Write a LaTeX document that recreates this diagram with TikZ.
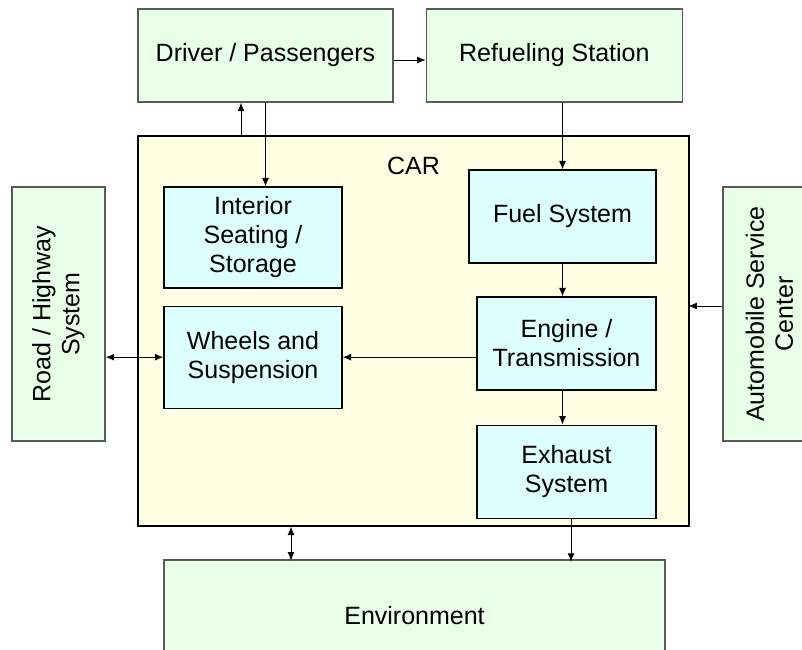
\documentclass[tikz,border=0pt]{standalone}
\usepackage{fontspec}
\setmainfont{Liberation Sans}
\usetikzlibrary{arrows.meta,positioning}
\definecolor{outgreen}{RGB}{232,255,232}
\definecolor{partblue}{RGB}{221,255,255}
\definecolor{carcream}{RGB}{255,255,228}

\begin{document}
\begin{tikzpicture}[x=1pt,y=-1pt,
		>={Latex[length=8.5pt,width=7pt]},
		outerbox/.style={draw=black!65,line width=1.3pt,fill=outgreen,align=center,
			font=\fontsize{25}{29}\selectfont,inner sep=2pt},
		partbox/.style={draw=black,line width=1.2pt,fill=partblue,align=center,
			font=\fontsize{25}{29}\selectfont,inner sep=2pt},
		link/.style={line width=1pt}
		]
		\clip (0,0) rectangle (802,649);
		
		% the car and its parts
		\node[partbox, fill=carcream, minimum width=551, minimum height=390,
		label={[anchor=north, inner sep=0pt, yshift=-21pt, font=\fontsize{25}{29}\selectfont]north:CAR}]
		(B2) at (413.5,331){};
		\node[partbox, minimum width=178, minimum height=101](B3) at (253,237.5){Interior\\Seating /\\Storage};
		\node[partbox, minimum width=178, minimum height=102, below=17pt of B3](B4){Wheels and\\Suspension};
		\node[partbox, minimum width=187, minimum height=93](B5) at (562.5,216.5){Fuel System};
		\node[partbox, minimum width=179, minimum height=93](B6) at (566.5,343.5){Engine /\\Transmission};
		\node[partbox, minimum width=179, minimum height=93, below=34pt of B6](B7){Exhaust\\System};
		
		% outside the car
		\node[outerbox, minimum width=255, minimum height=93](B0) at (265.5,55.5){Driver / Passengers};
		\node[outerbox, minimum width=256, minimum height=93, right=32pt of B0](B1){Refueling Station};
		\node[outerbox, rotate=90, minimum width=254, minimum height=93](B8) at (58.5,314){Road / Highway\\System};
		\node[outerbox, rotate=90, minimum width=254, minimum height=93](B9) at (769.5,314){Automobile Service\\Center};
		\node[outerbox, minimum width=501, minimum height=112](B10) at (414.5,616){Environment};
		
		\draw[link,->] ([yshift=-4.5pt]B0.east) -- ([yshift=-4.5pt]B1.west);
		\draw[link,<-] ([xshift=-24.5pt]B0.south) -- ++(0,34);
		\draw[link,->] (B0.south) -- (B0.south |- B3.north);
		\draw[link,->] (B1.south -| B5.north) -- (B5.north);
		\draw[link,->] (B5.south) -- (B5.south |- B6.north);
		\draw[link,->] (B5.south |- B6.south) -- (B5.south |- B7.north);
		\draw[link,->] ([xshift=4.5pt]B7.south) -- ++(0,43);
		\draw[link,->] (B6.west |- B4.east) -- (B4.east);
		\draw[link,<->] (B8.south |- B4.west) -- (B4.west);
		\draw[link,->] ([yshift=8pt]B9.north) -- ++(-34,0);
		\draw[link,<->] ([xshift=-122.5pt]B2.south) -- ++(0,34);
	\end{tikzpicture}
\end{document}
